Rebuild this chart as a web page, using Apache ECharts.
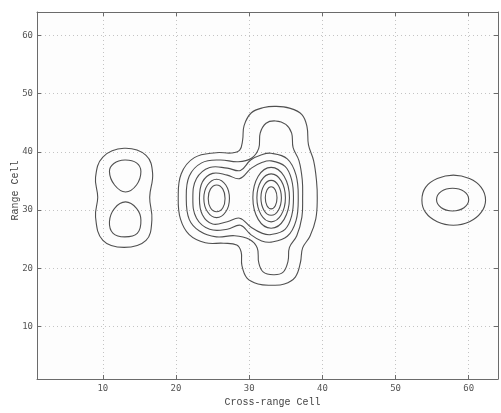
<!DOCTYPE html>
<html>
<head>
<meta charset="utf-8">
<script src="https://cdn.jsdelivr.net/npm/echarts@6/dist/echarts.min.js"></script>
<style>
    html, body { margin: 0; padding: 0; background: #fff; }
    #chart { width: 501px; height: 413px; }
</style>
</head>
<body>
<div id="chart"></div>
<script>
// axis ticks
const xTicks = [10, 20, 30, 40, 50, 60];
const yTicks = [10, 20, 30, 40, 50, 60];

// 1. left target (two peaks near x=13)
const leftOuter = [[9.3, 32.2], [9.0, 35.6], [10.0, 39.1], [12.9, 40.6], [15.9, 39.4], [16.8, 36.3],
    [16.4, 32.2], [16.7, 28.3], [15.9, 24.8], [12.9, 23.6], [10.0, 24.8], [9.0, 28.8]];
const leftUpper = [[10.9, 36.6], [11.5, 38.0], [13.0, 38.6], [14.6, 38.1], [15.2, 36.6], [14.6, 34.3],
    [13.1, 33.1], [11.6, 34.3]];
const leftLower = [[10.9, 28.0], [11.6, 30.3], [13.1, 31.4], [14.6, 30.3], [15.2, 28.3], [14.7, 26.0],
    [13.0, 25.4], [11.4, 26.0]];

// 2. middle pair (x=25.5 and x=33), shared levels
const midL1 = [[20.3, 32.0], [20.7, 36.2], [22.5, 39.0], [25.5, 39.85], [27.6, 39.8], [28.7, 40.3],
    [29.1, 42.0], [29.3, 44.5], [30.3, 46.7], [32.0, 47.6], [33.6, 47.8], [35.5, 47.5], [37.2, 46.4],
    [37.9, 44.3], [38.1, 41.2], [38.8, 38.5], [39.2, 35.0], [39.3, 32.0], [39.1, 28.5], [38.3, 25.5],
    [37.3, 23.5], [37.0, 21.0], [36.3, 18.5], [34.8, 17.3], [33.0, 17.1], [31.2, 17.3], [29.7, 18.3],
    [29.0, 20.5], [28.9, 22.8], [28.3, 24.0], [26.5, 24.3], [24.0, 24.4], [21.8, 25.8], [20.6, 28.5]];
const midL2 = [[21.4, 32.0], [21.8, 35.8], [23.5, 38.1], [26.0, 38.6], [28.5, 38.3], [30.3, 38.9],
    [31.3, 40.6], [31.5, 43.2], [32.3, 44.9], [33.6, 45.3], [35.0, 44.7], [35.8, 43.2], [36.0, 40.7],
    [36.8, 38.5], [37.25, 35.2], [37.3, 32.1], [37.2, 28.8], [36.5, 25.6], [35.5, 23.6], [35.3, 21.2],
    [34.6, 19.3], [33.3, 18.9], [31.9, 19.4], [31.3, 21.0], [31.1, 23.5], [30.0, 25.0], [28.0, 25.6],
    [25.5, 25.4], [23.2, 26.4], [21.8, 28.4]];
const midL3 = [[22.3, 32.0], [22.8, 35.4], [24.6, 37.3], [27.0, 37.2], [28.8, 36.8], [30.2, 38.6],
    [31.7, 39.5], [33.0, 39.75], [35.2, 38.8], [36.4, 36.0], [36.7, 32.1], [36.4, 28.2], [35.2, 25.5],
    [33.0, 24.5], [31.7, 24.7], [30.2, 25.8], [28.8, 27.4], [27.0, 26.7], [24.6, 26.7], [22.8, 28.6]];
const midL4 = [[23.2, 32.0], [23.6, 34.8], [25.0, 36.3], [27.0, 36.0], [28.7, 35.4], [30.3, 37.2],
    [31.8, 38.2], [33.0, 38.45], [34.9, 37.5], [35.8, 35.2], [36.05, 32.1], [35.8, 29.0], [34.9, 26.7],
    [33.0, 25.8], [31.8, 26.0], [30.3, 27.0], [28.7, 28.6], [27.0, 28.0], [25.0, 27.6], [23.6, 29.2]];

// 3. inner rings of the x=25.5 peak
const peakBL5 = [[27.3, 32.0], [26.8, 34.3], [25.55, 35.3], [24.3, 34.3], [23.8, 32.0], [24.3, 29.7],
    [25.55, 28.7], [26.8, 29.7]];
const peakBL6 = [[26.7, 32.0], [26.4, 33.6], [25.55, 34.3], [24.7, 33.6], [24.4, 32.0], [24.7, 30.4],
    [25.55, 29.7], [26.4, 30.4]];

// 4. inner rings of the x=33 peak
const peakCL5 = [[35.5, 32.1], [34.77, 35.8], [33.0, 37.33], [31.23, 35.8], [30.5, 32.1], [31.23, 28.4],
    [33.0, 26.87], [34.77, 28.4]];
const peakCL6 = [[34.95, 32.1], [34.38, 35.01], [33.0, 36.22], [31.62, 35.01], [31.05, 32.1], [31.62, 29.19],
    [33.0, 27.98], [34.38, 29.19]];
const peakCL7 = [[34.4, 32.1], [33.99, 34.22], [33.0, 35.1], [32.01, 34.22], [31.6, 32.1], [32.01, 29.98],
    [33.0, 29.1], [33.99, 29.98]];
const peakCL8 = [[33.8, 32.1], [33.57, 33.44], [33.0, 33.99], [32.43, 33.44], [32.2, 32.1], [32.43, 30.76],
    [33.0, 30.21], [33.57, 30.76]];

// 5. right target (x≈58)
const rightOuter = [[62.3, 31.7], [61.7, 33.9], [60.1, 35.4], [57.9, 36.0], [55.7, 35.4], [54.1, 33.9],
    [53.6, 31.7], [54.1, 29.6], [55.7, 28.0], [57.9, 27.4], [60.1, 28.0], [61.7, 29.6]];
const rightInner = [[60.0, 31.8], [59.35, 33.2], [57.8, 33.75], [56.25, 33.2], [55.6, 31.8], [56.25, 30.4],
    [57.8, 29.85], [59.35, 30.4]];

const contours = [leftOuter, leftUpper, leftLower, midL1, midL2, midL3, midL4, peakBL5, peakBL6,
    peakCL5, peakCL6, peakCL7, peakCL8, rightOuter, rightInner];

const axisColor = '#6b6b6b';
const labelStyle = { fontFamily: 'DejaVu Sans Mono', fontSize: 9, color: '#555' };
const nameStyle = { fontFamily: 'Liberation Mono', fontSize: 10, color: '#444' };

function makeAxis(ticks, extra) {
    return Object.assign({
        type: 'value',
        min: 1,
        max: 64,
        axisLine: { show: true, onZero: false, lineStyle: { color: axisColor, width: 1 } },
        axisTick: { show: true, inside: true, length: 4, customValues: ticks, lineStyle: { color: axisColor } },
        axisLabel: { show: false, customValues: ticks },
        splitLine: { show: false }
    }, extra);
}

const chart = echarts.init(document.getElementById('chart'));
chart.setOption({
    animation: false,
    backgroundColor: '#ffffff',
    grid: {
        left: 37, right: 3, top: 12, bottom: 34,
        outerBoundsMode: 'none', containLabel: false,
        show: true, backgroundColor: '#fdfdfd', borderWidth: 0
    },
    xAxis: [
        makeAxis(xTicks, {
            position: 'bottom',
            name: 'Cross-range Cell',
            nameLocation: 'middle',
            nameGap: 18,
            nameMoveOverlap: false,
            nameTextStyle: Object.assign({ padding: [0, 0, 0, 10] }, nameStyle),
            axisLabel: Object.assign({ show: true, margin: 5, customValues: xTicks }, labelStyle),
            splitLine: { show: true, lineStyle: { color: '#c4c4c4', type: [1, 3], width: 1 } }
        }),
        makeAxis(xTicks, { position: 'top' })
    ],
    yAxis: [
        makeAxis(yTicks, {
            position: 'left',
            name: 'Range Cell',
            nameLocation: 'middle',
            nameGap: 17,
            nameMoveOverlap: false,
            nameTextStyle: Object.assign({ padding: [0, 0, 0, 10] }, nameStyle),
            axisLabel: Object.assign({ show: true, margin: 4, customValues: yTicks }, labelStyle),
            splitLine: { show: true, lineStyle: { color: '#c4c4c4', type: [1, 3], width: 1 } }
        }),
        makeAxis(yTicks, { position: 'right' })
    ],
    series: [{
        type: 'custom',
        silent: true,
        xAxisIndex: 0,
        yAxisIndex: 0,
        data: contours.map(function(ring, i) { return [ring[0][0], ring[0][1], i]; }),
        encode: { x: 0, y: 1 },
        renderItem: function(params, api) {
            const ring = contours[api.value(2)];
            const points = ring.map(function(p) { return api.coord(p); });
            return {
                type: 'polygon',
                shape: { points: points, smooth: 0.4 },
                style: { fill: 'none', stroke: '#505050', lineWidth: 1.1 }
            };
        }
    }]
});
</script>
</body>
</html>
